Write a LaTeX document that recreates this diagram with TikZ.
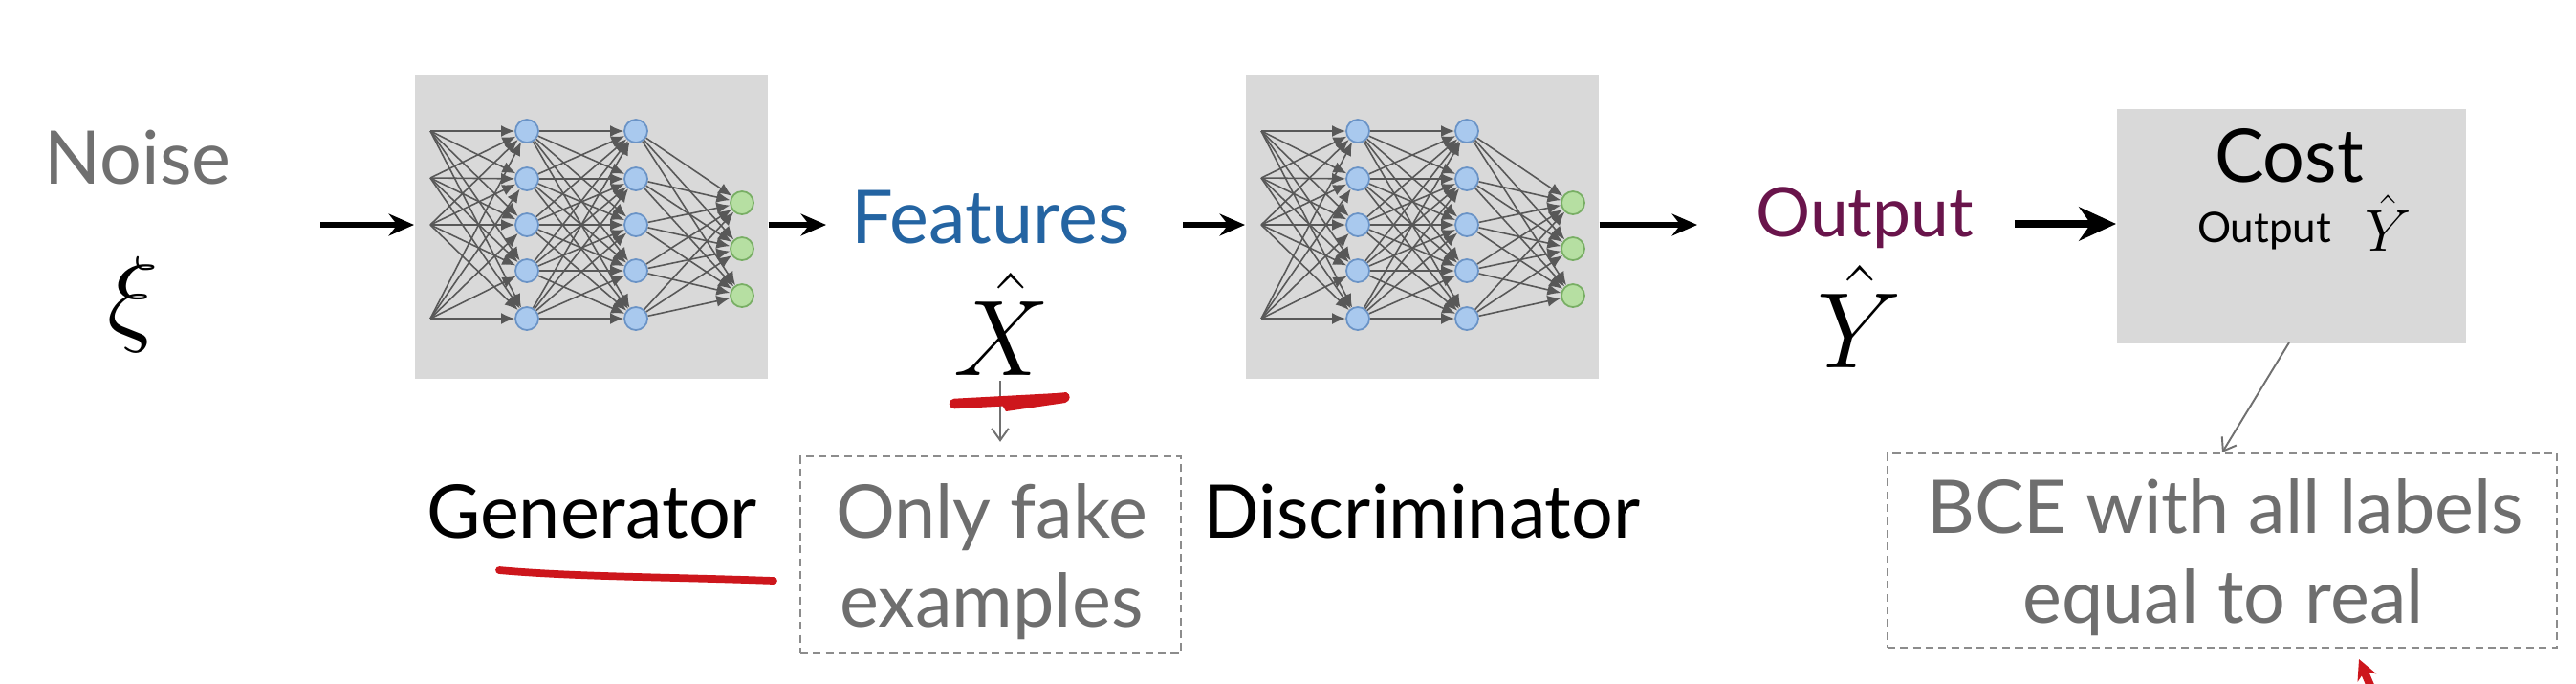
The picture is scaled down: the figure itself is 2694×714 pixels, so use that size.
\RequirePackage{fix-cm}
\documentclass[tikz,border=0pt]{standalone}
\usepackage{fontspec}
\setmainfont{Lato}
\usetikzlibrary{arrows.meta}
\definecolor{boxgray}{HTML}{D9D9D9}
\definecolor{noisegray}{HTML}{707070}
\definecolor{textgray}{HTML}{6E6E6E}
\definecolor{dashgray}{HTML}{8C8C8C}
\definecolor{featblue}{RGB}{36,100,162}
\definecolor{outpurple}{RGB}{105,20,75}
\definecolor{redink}{RGB}{205,22,28}
\definecolor{nnline}{HTML}{585858}
\definecolor{bluefill}{HTML}{A9C9EE}
\definecolor{bluedraw}{HTML}{6A93C6}
\definecolor{greenfill}{HTML}{B6DFA2}
\definecolor{greendraw}{HTML}{78AE64}
\tikzset{
  lab/.style={inner sep=0pt, anchor=base, font=\fontsize{22}{26}\selectfont},
  mlab/.style={inner sep=0pt, anchor=base, font=\fontsize{32}{38}\selectfont},
  nnbox/.style={fill=boxgray, draw=none, inner sep=0pt, minimum width=3.69cm, minimum height=3.18cm},
  costbox/.style={fill=boxgray, draw=none, inner sep=0pt, minimum width=3.65cm, minimum height=2.45cm},
  dashbox/.style={draw=dashgray, line width=0.6pt, dash pattern=on 2.3pt off 1.5pt, inner sep=0pt},
  boxtxt/.style={inner sep=0pt, anchor=base, text=textgray, font=\fontsize{22}{26}\selectfont},
  bigarrow/.style={line width=1.6pt, -{Stealth[length=7.5pt,width=6.5pt,inset=2.5pt]}},
  hugearrow/.style={line width=2.2pt, -{Stealth[length=11pt,width=10pt,inset=3.5pt]}},
  thinarrow/.style={draw=noisegray, line width=0.55pt, -{Straight Barb[length=3.5pt,width=5pt]}},
  nnl/.style={draw=nnline, line width=0.45pt, -{Latex[length=4pt,width=3.4pt]}},
  bnode/.style={circle, fill=bluefill, draw=bluedraw, line width=0.5pt, minimum size=0.24cm, inner sep=0pt},
  gnode/.style={circle, fill=greenfill, draw=greendraw, line width=0.5pt, minimum size=0.24cm, inner sep=0pt},
}
\newcommand{\drawnet}[2]{%
  \begin{scope}[shift={(#2,0)}]
    \foreach \i/\yy in {1/137,2/186,3/235,4/333} \coordinate (#1i\i) at (17,\yy);
    \foreach \i/\yy in {1/137,2/187,3/235,4/283,5/333} {
      \node[bnode] (#1a\i) at (118,\yy) {};
      \node[bnode] (#1b\i) at (232,\yy) {};
    }
    \foreach \i/\yy in {1/212,2/260,3/309} \node[gnode] (#1o\i) at (343,\yy) {};
    \foreach \i in {1,...,4} \foreach \j in {1,...,5} \draw[nnl] (#1i\i) -- (#1a\j);
    \foreach \i in {1,...,5} \foreach \j in {1,...,5} \draw[nnl] (#1a\i) -- (#1b\j);
    \foreach \i in {1,...,5} \foreach \j in {1,...,3} \draw[nnl] (#1b\i) -- (#1o\j);
  \end{scope}}
\begin{document}
\begin{tikzpicture}[x=0.01cm, y=-0.01cm]
\useasboundingbox (0,0) rectangle (2694,714);
\fill[white] (0,0) rectangle (2694,714);

% input
\node[lab, text=noisegray] (noise) at (144,192) {Noise};
\node[inner sep=0pt, font=\fontsize{32}{38}\selectfont] (xi) at (139,318) {$\xi$};

% generator
\node[nnbox, anchor=north west] (gen) at (433,77) {};
\drawnet{g}{433}
\node[lab] (genlab) at (619,562) {Generator};

% features
\node[lab, text=featblue] (feat) at (1036,254) {Features};
\node[mlab] (xhat) at (1048,392) {$\hat{X}$};
\node[dashbox, minimum width=3.98cm, minimum height=2.06cm] (fake) at (1036,580) {};
\node[boxtxt] (fake1) at (1037,562) {Only fake};
\node[boxtxt] (fake2) at (1037,655) {examples};

% discriminator
\node[nnbox, anchor=north west] (disc) at (1302,77) {};
\drawnet{d}{1302}
\node[lab] (disclab) at (1487,562) {Discriminator};

% output
\node[lab, text=outpurple, font=\fontsize{20.3}{24}\selectfont] (out) at (1950,247) {Output};
\node[mlab] (yhat) at (1945,384) {$\hat{Y}$};

% cost
\node[costbox, anchor=north west] (cost) at (2213,113) {};
\node[lab] (costlab) at (2394,190) {Cost};
\node[inner sep=0pt, anchor=base, font=\fontsize{12.5}{15}\selectfont] (costout) at (2368,253) {Output};
\node[inner sep=0pt, anchor=base, font=\fontsize{17.5}{21}\selectfont] (costy) at (2498,262) {$\hat{Y}$};
\node[dashbox, minimum width=7.0cm, minimum height=2.03cm] (bce) at (2324,575.5) {};
\node[boxtxt] (bce1) at (2327,557) {BCE with all labels};
\node[boxtxt] (bce2) at (2325,651) {equal to real};

% main arrows
\coordinate (a1s) at (335,235);
\coordinate (a2e) at (864,235);
\coordinate (a3s) at (1237,235);
\coordinate (a4e) at (1775,235);
\coordinate (a5s) at (2107,234);
\draw[bigarrow] (a1s) -- (gen.west |- a1s);
\draw[bigarrow] (gen.east |- a2e) -- (a2e);
\draw[bigarrow] (a3s) -- (disc.west |- a3s);
\draw[bigarrow] (disc.east |- a4e) -- (a4e);
\draw[hugearrow] (a5s) -- (cost.west |- a5s);

% thin gray arrows
\coordinate (xs) at (1046,398);
\draw[thinarrow, shorten >=4pt] (xs) -- (xs |- fake.north);
\coordinate (cs) at (2394,358);
\draw[thinarrow] (cs) -- (bce.north);

% red ink
\draw[redink, line width=3pt, line cap=round] (998,422) -- (1110,416);
\fill[redink] (1045,418) -- (1115,410) .. controls (1120,412) and (1120,419) .. (1114,421) -- (1052,430) -- cycle;
\draw[redink, line width=2.2pt, line cap=round] (522,596) .. controls (600,603) and (700,603) .. (809,607);
\coordinate (rs) at (2482,724);
\coordinate (re) at (2467,689);
\draw[redink, line width=2.4pt, -{Stealth[length=6pt,width=6pt]}] (rs) -- (re);
\end{tikzpicture}
\end{document}
